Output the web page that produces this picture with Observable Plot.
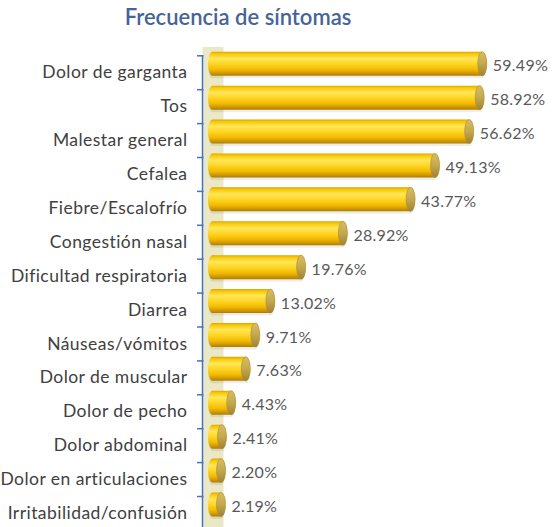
<!DOCTYPE html>
<html>
<head>
<meta charset="utf-8">
<script src="https://cdn.jsdelivr.net/npm/d3@7"></script>
<script src="https://cdn.jsdelivr.net/npm/@observablehq/plot@0.6"></script>
<style>
  html, body { margin: 0; padding: 0; background: #ffffff; }
  #title {
    width: 552px; height: 40px; box-sizing: border-box;
    padding-top: 5.5px; padding-right: 76px;
    font-family: Lato, sans-serif; font-weight: 600; font-size: 22px; line-height: 1;
    color: #46649a; text-align: center;
  }
  #chart svg { display: block; overflow: visible; }
  #chart g[aria-label="y-axis tick label"] { letter-spacing: 0.45px; }
  #chart g[aria-label="text"] { letter-spacing: 0.25px; }
</style>
</head>
<body>
<div id="title">Frecuencia de síntomas</div>
<div id="chart"></div>
<script>
const categories = [
  "Dolor de garganta", "Tos", "Malestar general", "Cefalea", "Fiebre/Escalofrío",
  "Congestión nasal", "Dificultad respiratoria", "Diarrea", "Náuseas/vómitos",
  "Dolor de muscular", "Dolor de pecho", "Dolor abdominal", "Dolor en articulaciones",
  "Irritabilidad/confusión"
];
const values = [59.49, 58.92, 56.62, 49.13, 43.77, 28.92, 19.76, 13.02, 9.71, 7.63, 4.43, 2.41, 2.20, 2.19];

const data = categories.map((c, i) => ({symptom: c, value: values[i]}));

const step = 33.9;
const barShift = -8.5;
const inset = 4.95;

const chart = Plot.plot({
  width: 552,
  height: 487,
  marginLeft: 211,
  marginRight: 22,
  marginTop: 15,
  marginBottom: 0,
  style: {fontFamily: "Lato, sans-serif", fontSize: "17.5px", color: "#404040", background: "transparent"},
  x: {domain: [0, 70], range: [211, 530.2], axis: null},
  y: {domain: categories, range: [15.3, 15.3 + 14 * step], padding: 0, round: false, label: null},
  marks: [
    // back wall
    Plot.ruleX([0], {stroke: "#ebe8c8", strokeWidth: 21, dx: 1.5, insetTop: -8}),
    // axis line
    Plot.ruleX([0], {stroke: "#4472c4", strokeWidth: 1.5, dx: -9}),
    // category boundary ticks
    Plot.ruleY(categories, {y: d => d, x1: 0, x2: 0, dy: -step / 2, insetLeft: -14, insetRight: 7.5, stroke: "#4472c4", strokeWidth: 1.5}),
    // soft shadow
    Plot.barX(data, {y: "symptom", x1: 0, x2: "value", fill: "#000", fillOpacity: 0.07, insetLeft: -3, insetRight: -4.5, insetTop: inset, insetBottom: inset, dy: barShift + 2.5, rx: 4.5, ry: 12}),
    // cylinder body
    Plot.barX(data, {y: "symptom", x1: 0, x2: "value", fill: "url(#barGrad)", insetLeft: -3, insetRight: -4.5, insetTop: inset, insetBottom: inset, dy: barShift, rx: 4.5, ry: 12}),
    // end cap
    Plot.barX(data, {y: "symptom", x1: "value", x2: "value", fill: "url(#capGrad)", stroke: "#a88c3a", strokeWidth: 0.6, insetLeft: -4.5, insetRight: -4.5, insetTop: inset, insetBottom: inset, dy: barShift, rx: 4.5, ry: 12}),
    // value labels
    Plot.text(data, {y: "symptom", x: "value", text: d => d.value.toFixed(2) + "%", dx: 10, dy: barShift + 2, textAnchor: "start", fill: "#595959", fontSize: 16}),
    Plot.axisY({tickSize: 0, tickPadding: 24, label: null, fill: "#404040", fontSize: 17.5})
  ]
});

const ns = "http://www.w3.org/2000/svg";
const defs = document.createElementNS(ns, "defs");
defs.innerHTML = `
  <linearGradient id="barGrad" x1="0" y1="0" x2="0" y2="1">
    <stop offset="0" stop-color="#d9a400"/>
    <stop offset="0.08" stop-color="#f7c800"/>
    <stop offset="0.28" stop-color="#ffe65a"/>
    <stop offset="0.5" stop-color="#ffd626"/>
    <stop offset="0.75" stop-color="#f2b900"/>
    <stop offset="0.92" stop-color="#c89200"/>
    <stop offset="1" stop-color="#a87c10"/>
  </linearGradient>
  <linearGradient id="capGrad" x1="0" y1="0" x2="0" y2="1">
    <stop offset="0" stop-color="#d8bd62"/>
    <stop offset="0.5" stop-color="#c4a84e"/>
    <stop offset="1" stop-color="#9e8232"/>
  </linearGradient>`;
chart.insertBefore(defs, chart.firstChild);
document.getElementById("chart").appendChild(chart);
</script>
</body>
</html>
